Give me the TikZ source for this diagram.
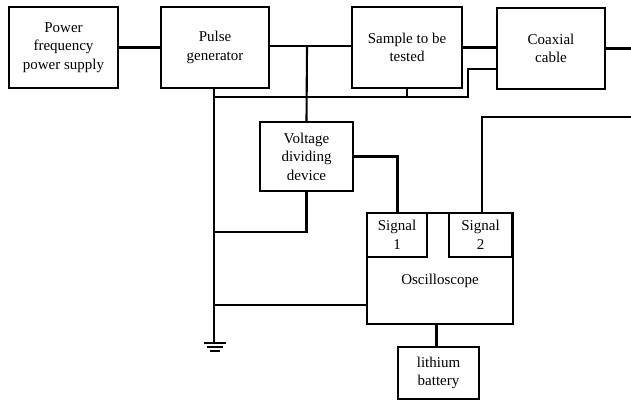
\documentclass[tikz,border=0pt]{standalone}
\usepackage{fontspec}
\setmainfont{Liberation Serif}
\begin{document}
\begin{tikzpicture}[x=1pt,y=-1pt,
  box/.style={draw=black, line width=2.1pt, fill=white, inner sep=0pt, align=center,
    font=\fontsize{15}{18.5}\selectfont},
  lbl/.style={inner sep=0pt, align=center, font=\fontsize{15}{18.5}\selectfont},
  wire/.style={draw=black, line width=2.1pt},
  thick wire/.style={draw=black, line width=3pt},
  thin wire/.style={draw=black, line width=1.8pt}]
\useasboundingbox (0,0) rectangle (631,401);
% boxes
\node[box, minimum width=109pt, minimum height=81pt] (psu) at (63.5,47.5) {Power\\frequency\\power supply};
\node[box, minimum width=108pt, minimum height=81pt] (pg) at (215,47.5) {Pulse\\generator};
\node[box, minimum width=110pt, minimum height=81pt] (smp) at (407,47.5) {Sample to be\\tested};
\node[box, minimum width=108pt, minimum height=81pt] (cx) at (551,48.5) {Coaxial\\cable};
\node[box, minimum width=93pt, minimum height=69pt] (vdd) at (306.5,156.5) {Voltage\\dividing\\device};
\node[box, minimum width=146pt, minimum height=111pt] (osc) at (440,268.5) {};
\node[lbl] (osclbl) at (440,281) {Oscilloscope};
\node[box, minimum width=60pt, minimum height=44pt] (s1) at (397,235) {Signal\\1};
\node[box, minimum width=63pt, minimum height=44pt] (s2) at (480.5,235) {Signal\\2};
\node[box, minimum width=81pt, minimum height=52pt] (bat) at (438.5,373) {lithium\\battery};
% coordinates
\coordinate (jA) at (307,46);
\coordinate (jB) at (214,88);
\coordinate (jC) at (214,97);
\coordinate (jD) at (468,97);
\coordinate (jE) at (468,69);
\coordinate (gnd) at (214,343);
\coordinate (cxout) at (631,48.5);
\coordinate (s2top) at (482,213);
\coordinate (s2out) at (631,117);
\coordinate (vddL) at (214,232);
\coordinate (oscL) at (214,305);
\coordinate (oscB) at (436,324);
\coordinate (batT) at (436,347);
% wires
\draw[thick wire] (psu.east) -- (pg.west);
\draw[wire] (pg.east |- jA) -- (smp.west |- jA);
\draw[wire] (jA) -- (vdd.north);
\draw[wire] (jB) -- (gnd);
\draw[wire] (jC) -- (jD) -- (jE) -- (cx.west |- jE);
\draw[wire] (smp.south) -- (smp.south |- jC);
\draw[thick wire] (smp.east) -- (cx.west |- smp.east);
\draw[wire] (cx.east) -- (cxout);
\draw[thick wire] (vdd.east) -| (s1.north);
\draw[wire] (vdd.south) |- (vddL);
\draw[thin wire] (s2top) |- (s2out);
\draw[wire] (osc.west |- oscL) -- (oscL);
\draw[thick wire] (oscB) -- (batT);
% ground symbol
\draw[wire] (204,343) -- (226,343);
\draw[wire] (207,347) -- (223,347);
\draw[wire] (210,351) -- (220,351);
\end{tikzpicture}
\end{document}
